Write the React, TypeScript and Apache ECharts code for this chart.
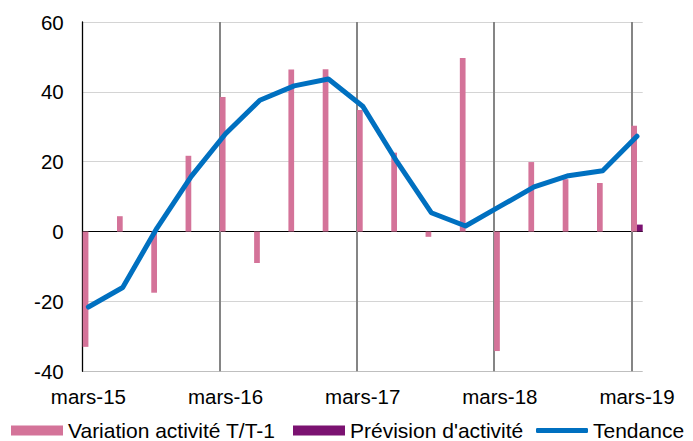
import React, { useEffect, useRef } from "react";
import * as echarts from "echarts";

const monthNames = ["janv.", "févr.", "mars", "avr.", "mai", "juin", "juil.", "août", "sept.", "oct.", "nov.", "déc."];
const startYear = 2015;
const startMonth = 2; // mars
const monthCount = 49; // mars-15 .. mars-19

// Quarterly values (mars-15 .. mars-19)
const variation = [-33, 4.4, -17.5, 21.7, 38.5, -9, 46.4, 46.5, 34.8, 22.6, -1.5, 49.7, -34.2, 19.9, 15, 13.9, 30.3];
const prevision = [null, null, null, null, null, null, null, null, null, null, null, null, null, null, null, null, 2];
const tendance = [-21.6, -16, 1, 15.8, 28, 37.6, 41.7, 43.7, 35.9, 20, 5.4, 1.6, 7.2, 12.8, 16, 17.4, 27.3];

const FONT = "'Liberation Sans', Arial, sans-serif";

function buildCategories(): string[] {
  const cats: string[] = [];
  for (let i = 0; i < monthCount; i++) {
    const m = (startMonth + i) % 12;
    const y = startYear + Math.floor((startMonth + i) / 12);
    cats.push(monthNames[m] + "-" + String(y).slice(2));
  }
  return cats;
}

function toMonthly(q: (number | null)[]): (number | string)[] {
  const out: (number | string)[] = [];
  for (let i = 0; i < monthCount; i++) {
    if (i % 3 === 0) {
      const v = q[i / 3];
      out.push(v === null || v === undefined ? "-" : v);
    } else out.push("-");
  }
  return out;
}

export default function App() {
  const ref = useRef<HTMLDivElement>(null);
  useEffect(() => {
    if (!ref.current) return;
    const chart = echarts.init(ref.current, null, { renderer: "svg" });
    const categories = buildCategories();
    const legendText = { fontFamily: FONT, fontSize: 21, color: "#000" };
    chart.setOption({
      animation: false,
      grid: { left: 82.7, top: 22, right: 50.3, bottom: 69.7 },
      xAxis: {
        type: "category",
        data: categories,
        boundaryGap: true,
        axisLine: { show: false },
        axisTick: { show: false },
        axisLabel: {
          interval: 11,
          fontFamily: FONT,
          fontSize: 20.5,
          color: "#000",
          margin: 15,
        },
        splitLine: {
          show: true,
          showMaxLine: false,
          interval: (i: number) => i % 12 === 0 && i > 0,
          lineStyle: { color: "#858585", width: 2 },
        },
      },
      yAxis: {
        type: "value",
        min: -40,
        max: 60,
        interval: 20,
        axisLine: { show: true, lineStyle: { color: "#000", width: 1.3 } },
        axisTick: { show: false },
        axisLabel: { fontFamily: FONT, fontSize: 20.5, color: "#000", margin: 19 },
        splitLine: {
          show: true,
          lineStyle: {
            color: ["#bfbfbf", "#d4d4d4", "#000000", "#d4d4d4", "#d4d4d4", "#d4d4d4"],
            width: 1.2,
          },
        },
      },
      legend: [
        {
          data: ["Variation activité T/T-1"],
          left: 11,
          top: 420,
          padding: 0,
          itemWidth: 52,
          itemHeight: 10,
          icon: "rect",
          textStyle: legendText,
        },
        {
          data: ["Prévision d'activité"],
          left: 293,
          top: 420,
          padding: 0,
          itemWidth: 52,
          itemHeight: 10,
          icon: "rect",
          textStyle: legendText,
        },
        {
          data: ["Tendance"],
          left: 536,
          top: 420,
          padding: 0,
          itemWidth: 52,
          itemHeight: 5,
          icon: "roundRect",
          textStyle: legendText,
        },
      ],
      series: [
        {
          name: "Variation activité T/T-1",
          type: "bar",
          data: toMonthly(variation),
          barGap: "0%",
          barCategoryGap: "0%",
          itemStyle: { color: "#d47399" },
        },
        {
          name: "Prévision d'activité",
          type: "bar",
          data: toMonthly(prevision),
          barGap: "0%",
          barCategoryGap: "0%",
          itemStyle: { color: "#7b1271" },
        },
        {
          name: "Tendance",
          type: "line",
          data: toMonthly(tendance),
          connectNulls: true,
          symbol: "none",
          showSymbol: false,
          lineStyle: { color: "#0070c0", width: 5, join: "round", cap: "round" },
          itemStyle: { color: "#0070c0" },
          z: 3,
        },
      ],
    });
    return () => chart.dispose();
  }, []);
  return (
    <div
      ref={ref}
      style={{ position: "absolute", left: 0, top: 0, width: 693, height: 441, background: "#fff" }}
    />
  );
}
